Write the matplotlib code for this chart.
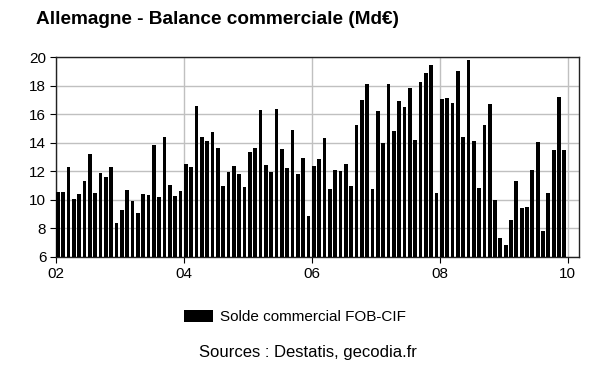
import numpy as np
import matplotlib.pyplot as plt

plt.rcParams['font.family'] = ['Liberation Sans', 'DejaVu Sans']

# monthly trade balance, Jan 2002 - Dec 2009 (Md EUR)
solde = [
    10.54, 10.55, 12.28, 10.03, 10.40, 11.29, 13.21, 10.50, 11.85, 11.57, 12.30, 8.39,
    9.28, 10.68, 9.89, 9.11, 10.40, 10.36, 13.85, 10.19, 14.43, 11.01, 10.26, 10.59,
    12.49, 12.28, 16.60, 14.38, 14.15, 14.78, 13.61, 10.96, 11.95, 12.39, 11.78, 10.87,
    13.33, 13.63, 16.26, 12.42, 11.97, 16.33, 13.56, 12.23, 14.92, 11.81, 12.96, 8.90,
    12.35, 12.84, 14.36, 10.78, 12.11, 12.02, 12.51, 10.96, 15.25, 16.96, 18.13, 10.78,
    16.21, 13.96, 18.13, 14.83, 16.89, 16.47, 17.80, 14.20, 18.22, 18.88, 19.42, 10.50,
    17.05, 17.12, 16.77, 19.04, 14.38, 19.77, 14.15, 10.82, 15.27, 16.68, 9.96, 7.33,
    6.84, 8.62, 11.34, 9.40, 9.47, 12.09, 14.08, 7.83, 10.45, 13.47, 17.22, 13.49,
]
year_ticks = [0, 24, 48, 72, 96]
year_labels = ['02', '04', '06', '08', '10']

fig = plt.figure(figsize=(6, 3.72), dpi=100)
ax = fig.add_axes([56 / 600, 1 - 257 / 372, 523 / 600, 200 / 372])

x = np.arange(len(solde))
ax.bar(x, np.array(solde) - 6, bottom=6, width=0.7, align='edge', color='black',
       label='Solde commercial FOB-CIF', zorder=3)

ax.set_xlim(0, 98.1)
ax.set_ylim(6, 20)
ax.set_yticks(range(6, 21, 2))
ax.set_xticks(year_ticks)
ax.set_xticklabels(year_labels)
ax.grid(True, color='#c0c0c0', linewidth=1, zorder=0)
ax.tick_params(direction='out', length=4, labelsize=11, colors='black', pad=3)
for s in ax.spines.values():
    s.set_color('#222222')
    s.set_linewidth(1)

fig.text(36 / 600, 1 - 20 / 372, 'Allemagne - Balance commerciale (Md€)',
         fontsize=13.7, fontweight='bold', va='center', ha='left')

fig.legend(loc='center', bbox_to_anchor=(295 / 600, 1 - 317 / 372), frameon=False,
           fontsize=11, handlelength=1.9, handleheight=0.8, handletextpad=0.5)

fig.text(308 / 600, 1 - 353 / 372, 'Sources : Destatis, gecodia.fr',
         fontsize=12, ha='center', va='center')

fig.savefig('out.png', dpi=100)
